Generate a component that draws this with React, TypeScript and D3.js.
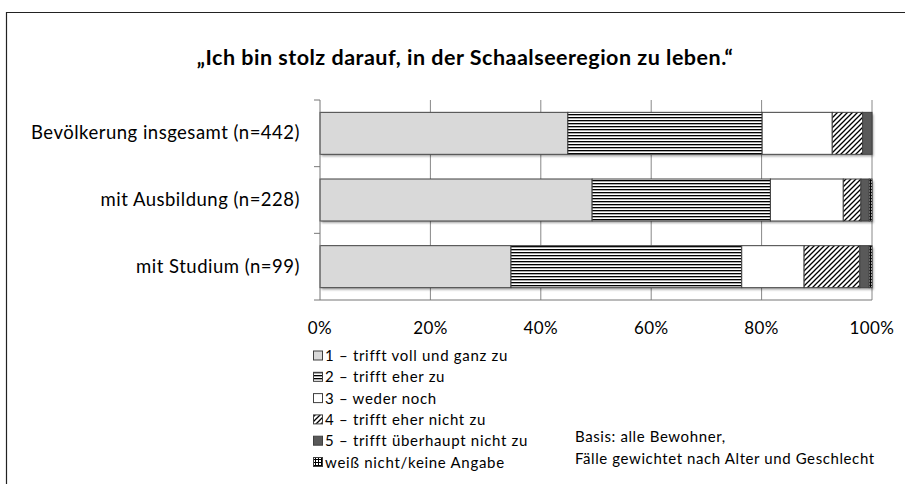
import React from "react";
import * as d3 from "d3";

const categories = ["Bevölkerung insgesamt (n=442)", "mit Ausbildung (n=228)", "mit Studium (n=99)"];
const seriesNames = [
  "1 – trifft voll und ganz zu",
  "2 – trifft eher zu",
  "3 – weder noch",
  "4 – trifft eher nicht zu",
  "5 – trifft überhaupt nicht zu",
  "weiß nicht/keine Angabe",
];
const s1 = [44.9, 49.3, 34.6];
const s2 = [35.2, 32.3, 41.8];
const s3 = [12.7, 13.2, 11.3];
const s4 = [5.5, 3.2, 10.1];
const s5 = [1.7, 1.5, 1.7];
const s6 = [0.0, 0.5, 0.5];
const seriesValues = [s1, s2, s3, s4, s5, s6];
const xTicks = [0, 20, 40, 60, 80, 100];
const title = "„Ich bin stolz darauf, in der Schaalseeregion zu leben.“";
const noteLines = ["Basis: alle Bewohner,", "Fälle gewichtet nach Alter und Geschlecht"];

const fills = ["#d9d9d9", "url(#pH)", "#ffffff", "url(#pD)", "#595959", "url(#pG)"];
const font = "Lato, 'Open Sans', sans-serif";

export default function App() {
  const W = 905, H = 484;
  const x = d3.scaleLinear().domain([0, 100]).range([320, 872]);
  const y = d3.scaleBand<string>().domain(categories).range([100, 300]).paddingInner(0.37).paddingOuter(0.185);

  const stacks = categories.map((c, ci) => {
    let acc = 0;
    return seriesValues.map((sv, si) => {
      const v0 = acc;
      acc += sv[ci];
      return { si, v0, v1: acc };
    });
  });

  const bandStep = 200 / categories.length;
  const legendY0 = 356;
  const legendStep = 21.3;

  return (
    <svg width={W} height={H} style={{ position: "absolute", left: 0, top: 0, background: "#fff" }}>
      <defs>
        <pattern id="pH" patternUnits="userSpaceOnUse" width="4" height="3">
          <rect width="4" height="3" fill="#fff" />
          <line x1="0" x2="4" y1="0.5" y2="0.5" stroke="#000" strokeWidth="1.1" />
          <rect y="1.2" width="4" height="0.8" fill="#999" />
        </pattern>
        <pattern id="pD" patternUnits="userSpaceOnUse" width="5" height="5">
          <rect width="5" height="5" fill="#fff" />
          <path d="M0,5 L5,0 M-1,1 L1,-1 M4,6 L6,4" stroke="#000" strokeWidth="1.3" />
        </pattern>
        <pattern id="pG" patternUnits="userSpaceOnUse" width="3" height="3">
          <rect width="3" height="3" fill="#fff" />
          <path d="M0,0.5 H3 M0.5,0 V3" stroke="#000" strokeWidth="1" />
        </pattern>
        <filter id="sh" x="-5%" y="-20%" width="110%" height="150%">
          <feDropShadow dx="1.5" dy="2" stdDeviation="1.2" floodColor="#000" floodOpacity="0.35" />
        </filter>
      </defs>
      <rect x={0} y={0} width={W} height={H} fill="#fff" />
      {/* frame */}
      <path d="M6.5,484 V12.5 H905" fill="none" stroke="#222" strokeWidth={1.2} />

      <text x={465} y={65} textAnchor="middle" fontFamily={font} fontWeight="bold" fontSize={21.5} letterSpacing={0.5} fill="#000">
        {title}
      </text>

      {/* gridlines */}
      {xTicks.slice(1).map((t) => (
        <line key={t} x1={x(t)} x2={x(t)} y1={100} y2={300} stroke="#888" strokeWidth={1} />
      ))}

      {/* bars */}
      {categories.map((c, ci) => (
        <g key={c}>
          <g filter="url(#sh)">
            <rect x={x(0)} y={y(c)!} width={x(100) - x(0)} height={y.bandwidth()} fill="#fff" />
          </g>
          {stacks[ci].map((d) =>
            d.v1 - d.v0 > 0 ? (
              <rect
                key={d.si}
                x={x(d.v0)}
                y={y(c)!}
                width={x(d.v1) - x(d.v0)}
                height={y.bandwidth()}
                fill={fills[d.si]}
                stroke="#404040"
                strokeWidth={1}
              />
            ) : null
          )}
        </g>
      ))}

      {/* y axis */}
      <line x1={320} x2={320} y1={100} y2={300} stroke="#777" strokeWidth={1} />
      {d3.range(categories.length + 1).map((i) => (
        <line key={i} x1={314} x2={320} y1={100 + i * bandStep} y2={100 + i * bandStep} stroke="#777" strokeWidth={1} />
      ))}
      <line x1={320} x2={872} y1={300} y2={300} stroke="#777" strokeWidth={1} />
      {categories.map((c) => (
        <text key={c} x={300} y={y(c)! + y.bandwidth() / 2 + 6} textAnchor="end" fontFamily={font} fontSize={18.5} letterSpacing={0.5} fill="#000">
          {c}
        </text>
      ))}

      {/* x tick labels */}
      {xTicks.map((t) => (
        <text key={t} x={x(t)} y={333.5} textAnchor="middle" fontFamily={font} fontSize={17} letterSpacing={0.4} fill="#000">
          {t + "%"}
        </text>
      ))}

      {/* legend */}
      {seriesNames.map((n, i) => (
        <g key={n}>
          <rect x={313.5} y={legendY0 + i * legendStep - 5} width={9} height={9} fill={fills[i]} stroke="#404040" strokeWidth={1} />
          <text x={325} y={legendY0 + i * legendStep + 5} fontFamily={font} fontSize={15} letterSpacing={0.7} fill="#000">
            {n}
          </text>
        </g>
      ))}

      {/* note */}
      {noteLines.map((l, i) => (
        <text key={i} x={575} y={442 + i * 21.5} fontFamily={font} fontSize={15} letterSpacing={0.6} fill="#000">
          {l}
        </text>
      ))}
    </svg>
  );
}
